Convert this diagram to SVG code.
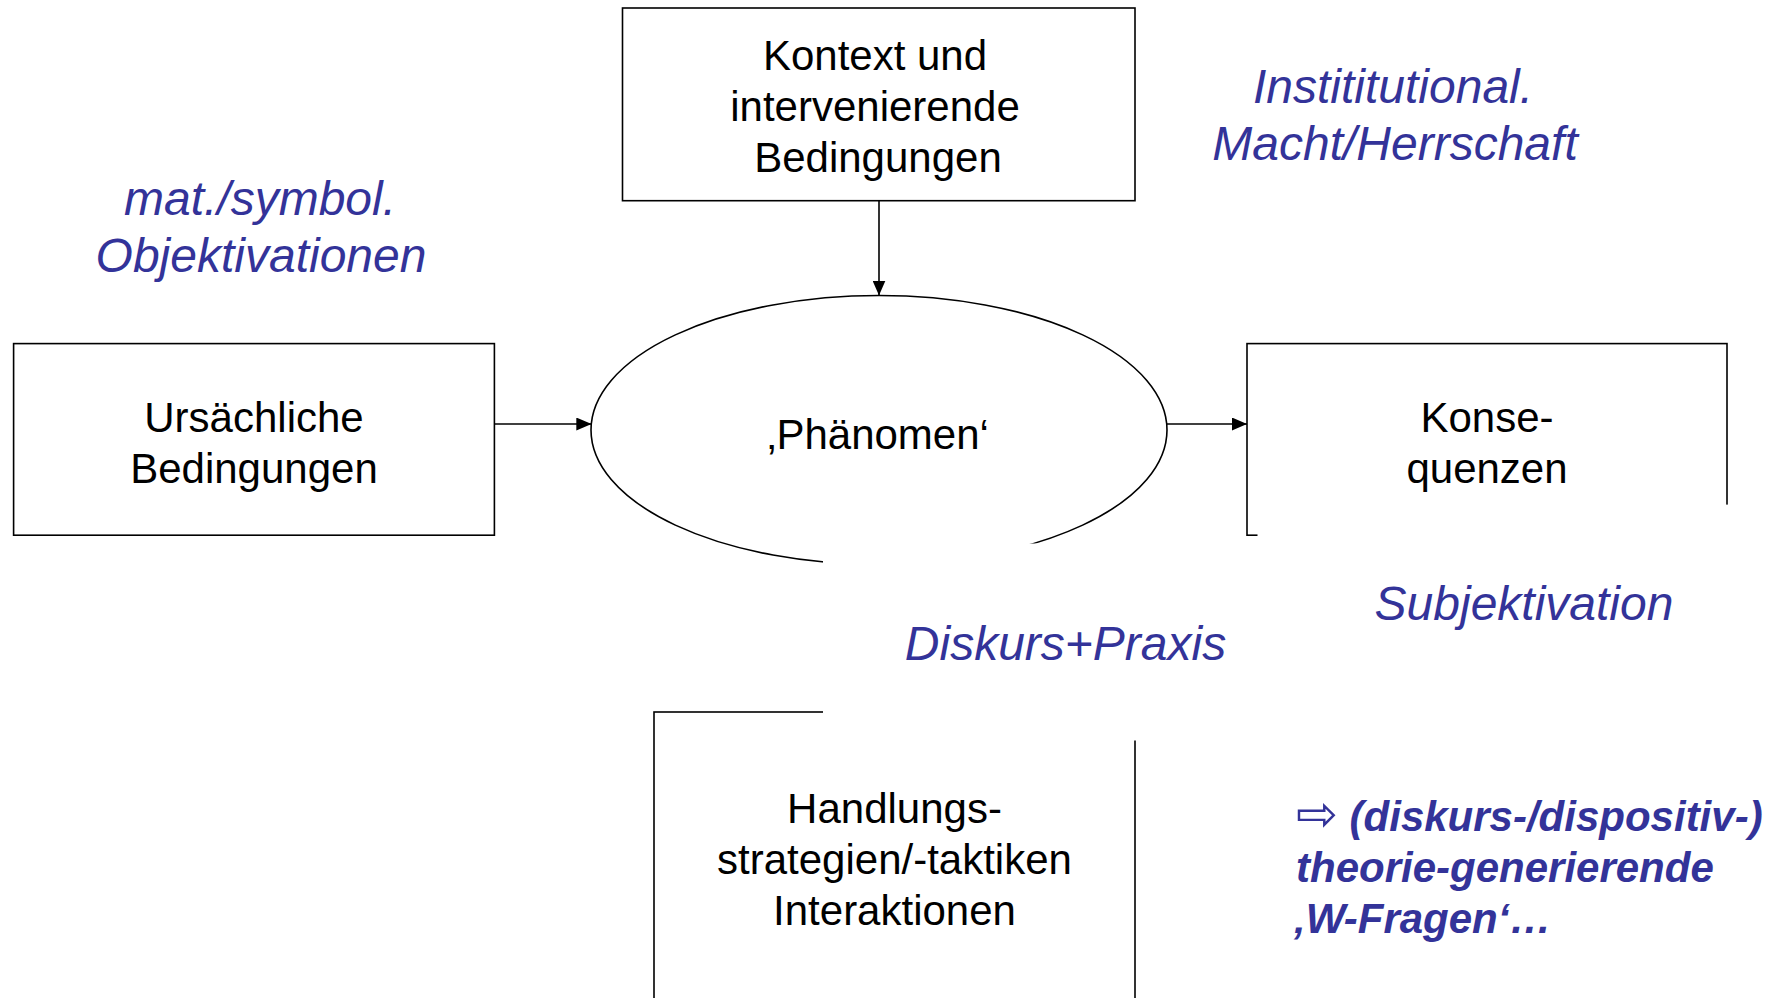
<svg xmlns="http://www.w3.org/2000/svg" width="1778" height="998" viewBox="0 0 1778 998">
<style>
.box{fill:#fff;stroke:#000;stroke-width:1.6}
.edge{fill:none;stroke:#000;stroke-width:1.6}
.mask{fill:#fff;stroke:none}
.t{font-family:"Liberation Sans",Arial,sans-serif;font-size:42px;fill:#000;text-anchor:middle}
.b{font-family:"Liberation Sans",Arial,sans-serif;font-size:48px;font-style:italic;fill:#333399;text-anchor:middle}
.bb{font-family:"Liberation Sans","DejaVu Sans",Arial,sans-serif;font-size:42px;font-style:italic;font-weight:bold;fill:#333399}
.sym{font-family:"DejaVu Sans",sans-serif;font-weight:normal;font-size:50px}
</style>
<defs>
<marker id="arr" viewBox="0 0 15 13" refX="15" refY="6.5" markerWidth="15" markerHeight="13" markerUnits="userSpaceOnUse" orient="auto">
<path d="M0,0 L15,6.5 L0,13 z" fill="#000"/>
</marker>
</defs>
<rect width="1778" height="998" fill="#fff"/>
<g id="kontext">
<rect class="box" x="622.5" y="8" width="512.5" height="192.7"/>
<text class="t" x="875" y="70">Kontext und</text>
<text class="t" x="875" y="121">intervenierende</text>
<text class="t" x="878" y="172">Bedingungen</text>
</g>
<g id="ursaechliche">
<rect class="box" x="13.6" y="343.6" width="480.8" height="191.6"/>
<text class="t" x="254" y="432">Ursächliche</text>
<text class="t" x="254" y="483">Bedingungen</text>
</g>
<g id="phaenomen">
<ellipse class="box" cx="879" cy="430" rx="288" ry="134.5"/>
<text class="t" x="878" y="449">‚Phänomen‘</text>
</g>
<g id="konsequenzen">
<rect class="box" x="1247" y="343.6" width="480" height="191.6"/>
<text class="t" x="1487" y="432">Konse-</text>
<text class="t" x="1487" y="483">quenzen</text>
</g>
<g id="handlung">
<rect class="box" x="654" y="712" width="481" height="300"/>
<text class="t" x="894.5" y="823">Handlungs-</text>
<text class="t" x="894.5" y="874">strategien/-taktiken</text>
<text class="t" x="894.5" y="925">Interaktionen</text>
</g>
<g id="connectors">
<line class="edge" x1="879" y1="200.7" x2="879" y2="295.5" marker-end="url(#arr)"/>
<line class="edge" x1="494.4" y1="424" x2="591.3" y2="424" marker-end="url(#arr)"/>
<line class="edge" x1="1166.7" y1="424" x2="1247" y2="424" marker-end="url(#arr)"/>
</g>
<g id="label-objektivationen">
<text class="b" x="260" y="215">mat./symbol.</text>
<text class="b" x="261" y="272">Objektivationen</text>
</g>
<g id="label-macht">
<text class="b" x="1393" y="103">Instititutional.</text>
<text class="b" x="1395" y="160">Macht/Herrschaft</text>
</g>
<g id="label-subjektivation">
<rect class="mask" x="1257.5" y="504.6" width="520.5" height="140"/>
<text class="b" x="1524" y="620">Subjektivation</text>
</g>
<g id="label-diskurs">
<rect class="mask" x="823" y="543.5" width="330" height="197"/>
<text class="b" x="1065.5" y="660">Diskurs+Praxis</text>
</g>
<g id="label-wfragen">
<text class="bb" x="1296" y="831"><tspan class="sym">⇨</tspan> (diskurs-/dispositiv-)</text>
<text class="bb" x="1296" y="882">theorie-generierende</text>
<text class="bb" x="1294" y="933">‚W-Fragen‘…</text>
</g>
</svg>
